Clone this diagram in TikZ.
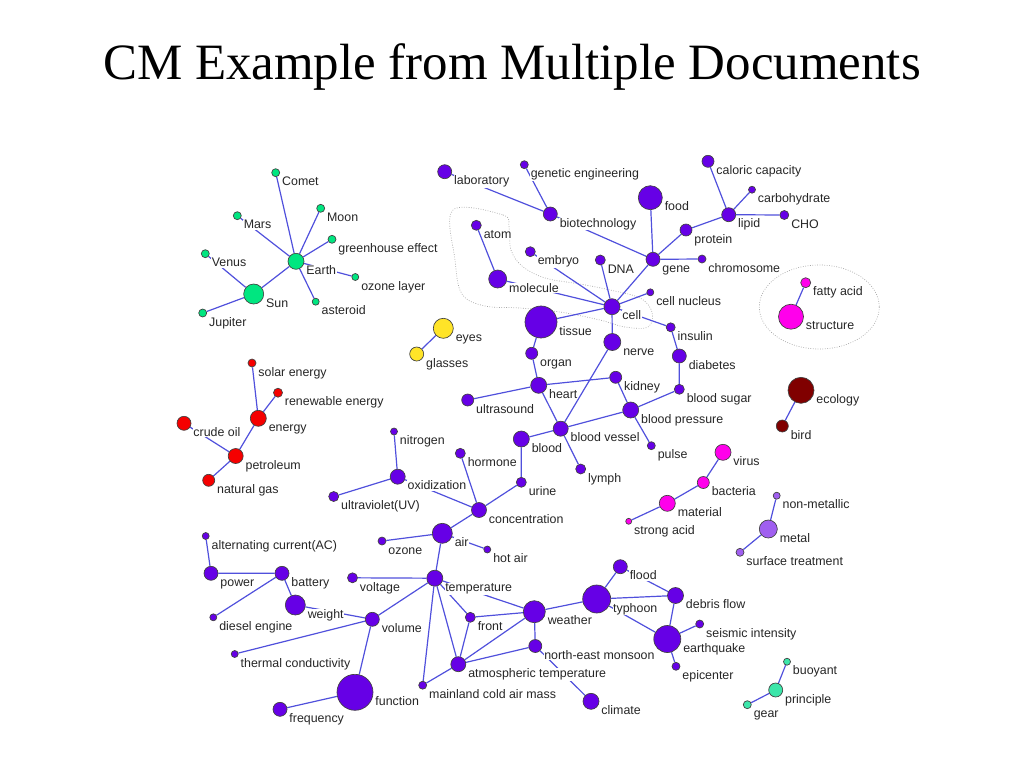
\documentclass[tikz,border=0pt]{standalone}
\usepackage{fontspec}
\setmainfont{Liberation Sans}
\newfontfamily\titlefont{Liberation Serif}
\usepackage{xcolor}
\usepackage{tikz}
\usetikzlibrary{backgrounds}

\definecolor{cmviolet}{RGB}{102,0,230}
\definecolor{cmgreen}{RGB}{0,230,128}
\definecolor{cmyellow}{RGB}{255,228,40}
\definecolor{cmred}{RGB}{245,0,0}
\definecolor{cmmagenta}{RGB}{255,0,235}
\definecolor{cmbrown}{RGB}{128,0,0}
\definecolor{cmlilac}{RGB}{160,95,240}
\definecolor{cmaqua}{RGB}{60,230,170}
\definecolor{cmlink}{RGB}{80,80,220}

\begin{document}
\begin{tikzpicture}[x=0.75pt,y=-0.75pt,
    concept/.style={circle,inner sep=0pt,minimum size=#1*0.75pt,draw=black!75,line width=0.5pt,fill=cmviolet},
    lbl/.style={anchor=base west,xshift=1pt,yshift=-9.9pt,font=\fontsize{9.3}{11}\selectfont,
      text=black!85,fill=white,inner sep=0.4pt},
    link/.style={draw=cmlink,line width=0.9pt},
    hull/.style={draw=gray!70,line width=0.5pt,dash pattern=on 0.6pt off 1.2pt},
    space/.style={fill=cmgreen}, sight/.style={fill=cmyellow}, fuel/.style={fill=cmred},
    germ/.style={fill=cmmagenta}, eco/.style={fill=cmbrown}, alloy/.style={fill=cmlilac},
    mech/.style={fill=cmaqua}]
  \useasboundingbox (0,0) rectangle (1024,768);
  \node[font=\titlefont\fontsize{38.2}{44}\selectfont,anchor=base] (title) at (512,79) {CM Example from Multiple Documents};

  % astronomy
  \node[concept=8,space,label={[lbl]east:Comet}] (comet) at (275.7,172.7) {};
  \node[concept=8,space,label={[lbl]east:Mars}] (mars) at (237.3,215.7) {};
  \node[concept=8,space,label={[lbl]east:Moon}] (moon) at (320.7,208.3) {};
  \node[concept=8,space,label={[lbl]east:greenhouse effect}] (greenhouse) at (332,239.3) {};
  \node[concept=16,space,label={[lbl]east:Earth}] (earth) at (296,261.3) {};
  \node[concept=7,space,label={[lbl]east:ozone layer}] (ozonelayer) at (355.3,277) {};
  \node[concept=8,space,label={[lbl]east:Venus}] (venus) at (205.3,253.7) {};
  \node[concept=20,space,label={[lbl]east:Sun}] (sun) at (253.7,294) {};
  \node[concept=7,space,label={[lbl]east:asteroid}] (asteroid) at (315.7,301.7) {};
  \node[concept=8,space,label={[lbl]east:Jupiter}] (jupiter) at (202.7,313) {};

  % biology
  \node[concept=14,label={[lbl]east:laboratory}] (laboratory) at (444.7,171.7) {};
  \node[concept=8,label={[lbl]east:genetic engineering}] (geneng) at (524.3,164.7) {};
  \node[concept=14,label={[lbl]east:biotechnology}] (biotech) at (550.3,214) {};
  \node[concept=24,label={[lbl]east:food}] (food) at (650.3,197.7) {};
  \node[concept=12,label={[lbl]east:protein}] (protein) at (686,230) {};
  \node[concept=12,label={[lbl]east:caloric capacity}] (caloric) at (708,161.3) {};
  \node[concept=7,label={[lbl]east:carbohydrate}] (carbohydrate) at (752,189.7) {};
  \node[concept=14,label={[lbl]east:lipid}] (lipid) at (728.7,214.7) {};
  \node[concept=9,label={[lbl]east:CHO}] (cho) at (784.3,215) {};
  \node[concept=8,label={[lbl]east:chromosome}] (chromosome) at (702,259) {};
  \node[concept=10,label={[lbl]east:atom}] (atom) at (476.3,225.3) {};
  \node[concept=18,label={[lbl]east:molecule}] (molecule) at (497.7,279) {};
  \node[concept=10,label={[lbl]east:embryo}] (embryo) at (530.3,251.7) {};
  \node[concept=10,label={[lbl]east:DNA}] (dna) at (600.3,260) {};
  \node[concept=14,label={[lbl]east:gene}] (gene) at (653,259.3) {};
  \node[concept=7,label={[lbl]east:cell nucleus}] (cellnucleus) at (650.3,292.3) {};
  \node[concept=16,label={[lbl]east:cell}] (cell) at (612,306.7) {};
  \node[concept=32,label={[lbl]east:tissue}] (tissue) at (541,322) {};
  \node[concept=9,label={[lbl]east:insulin}] (insulin) at (670.7,327.3) {};
  \node[concept=17,label={[lbl]east:nerve}] (nerve) at (612.3,342) {};
  \node[concept=12,label={[lbl]east:organ}] (organ) at (531.7,353.3) {};
  \node[concept=14,label={[lbl]east:diabetes}] (diabetes) at (679.3,356) {};
  \node[concept=16,label={[lbl]east:heart}] (heart) at (538.7,385.3) {};
  \node[concept=12,label={[lbl]east:kidney}] (kidney) at (615.7,377.3) {};
  \node[concept=10,label={[lbl]east:blood sugar}] (bloodsugar) at (679.3,389.3) {};
  \node[concept=12,label={[lbl]east:ultrasound}] (ultrasound) at (467.7,400) {};
  \node[concept=16,label={[lbl]east:blood pressure}] (bloodpressure) at (630.7,410) {};
  \node[concept=15,label={[lbl]east:blood vessel}] (bloodvessel) at (560.7,428.7) {};
  \node[concept=16,label={[lbl]east:blood}] (blood) at (521.3,439) {};
  \node[concept=8,label={[lbl]east:pulse}] (pulse) at (651.3,445.7) {};
  \node[concept=10,label={[lbl]east:hormone}] (hormone) at (460.3,453.3) {};
  \node[concept=10,label={[lbl]east:lymph}] (lymph) at (580.7,469) {};
  \node[concept=10,label={[lbl]east:urine}] (urine) at (521.3,482.3) {};

  % chemistry and air
  \node[concept=7,label={[lbl]east:nitrogen}] (nitrogen) at (394,431.5) {};
  \node[concept=15,label={[lbl]east:oxidization}] (oxidization) at (397.7,476.7) {};
  \node[concept=10,label={[lbl]east:ultraviolet(UV)}] (uv) at (333.7,496.5) {};
  \node[concept=15,label={[lbl]east:concentration}] (concentration) at (479,510) {};
  \node[concept=20,label={[lbl]east:air}] (air) at (442.3,533.3) {};
  \node[concept=8,label={[lbl]east:ozone}] (ozone) at (382,541) {};
  \node[concept=7,label={[lbl]east:hot air}] (hotair) at (487.3,549.5) {};

  % physics
  \node[concept=7,label={[lbl]east:alternating current(AC)}] (ac) at (205.7,536) {};
  \node[concept=14,label={[lbl]east:power}] (power) at (211,573.3) {};
  \node[concept=14,label={[lbl]east:battery}] (battery) at (282,573.3) {};
  \node[concept=20,label={[lbl]east:weight}] (weight) at (295.3,605) {};
  \node[concept=7,label={[lbl]east:diesel engine}] (diesel) at (213.3,617.3) {};
  \node[concept=10,label={[lbl]east:voltage}] (voltage) at (352.5,577.8) {};
  \node[concept=16,label={[lbl]east:temperature}] (temperature) at (434.8,578.2) {};
  \node[concept=14,label={[lbl]east:volume}] (volume) at (372.3,619.3) {};
  \node[concept=7,label={[lbl]east:thermal conductivity}] (thermal) at (234.7,654) {};
  \node[concept=36,label={[lbl]east:function}] (function) at (355,692.3) {};
  \node[concept=14,label={[lbl]east:frequency}] (frequency) at (280,709.3) {};

  % weather
  \node[concept=10,label={[lbl]east:front}] (front) at (470.3,617.3) {};
  \node[concept=22,label={[lbl]east:weather}] (weather) at (534.3,611.7) {};
  \node[concept=28,label={[lbl]east:typhoon}] (typhoon) at (596.7,599) {};
  \node[concept=14,label={[lbl]east:flood}] (flood) at (620.3,566.7) {};
  \node[concept=16,label={[lbl]east:debris flow}] (debris) at (675.5,595.5) {};
  \node[concept=8,label={[lbl]east:seismic intensity}] (seismic) at (699.7,624) {};
  \node[concept=27,label={[lbl]east:earthquake}] (earthquake) at (667.3,639) {};
  \node[concept=8,label={[lbl]east:epicenter}] (epicenter) at (676,666.3) {};
  \node[concept=13,label={[lbl]east:north-east monsoon}] (monsoon) at (535.3,646) {};
  \node[concept=15,label={[lbl]east:atmospheric temperature}] (atmotemp) at (458.3,664.2) {};
  \node[concept=8,label={[lbl]east:mainland cold air mass}] (mainland) at (422.7,685.2) {};
  \node[concept=16,label={[lbl]east:climate}] (climate) at (591,701.3) {};

  % small clusters
  \node[concept=20,sight,label={[lbl]east:eyes}] (eyes) at (443.3,328.3) {};
  \node[concept=14,sight,label={[lbl]east:glasses}] (glasses) at (416.7,354) {};
  \node[concept=8,fuel,label={[lbl]east:solar energy}] (solar) at (252,363) {};
  \node[concept=9,fuel,label={[lbl]east:renewable energy}] (renewable) at (278,392.7) {};
  \node[concept=16,fuel,label={[lbl]east:energy}] (energy) at (258.3,418.3) {};
  \node[concept=14,fuel,label={[lbl]east:crude oil}] (crudeoil) at (184,423.3) {};
  \node[concept=15,fuel,label={[lbl]east:petroleum}] (petroleum) at (235.7,456) {};
  \node[concept=12,fuel,label={[lbl]east:natural gas}] (naturalgas) at (208.7,480.3) {};
  \node[concept=26,eco,label={[lbl]east:ecology}] (ecology) at (801,390.3) {};
  \node[concept=12,eco,label={[lbl]east:bird}] (bird) at (782.3,426) {};
  \node[concept=10,germ,label={[lbl]east:fatty acid}] (fattyacid) at (805.7,282.7) {};
  \node[concept=25,germ,label={[lbl]east:structure}] (structure) at (791,316.7) {};
  \node[concept=16,germ,label={[lbl]east:virus}] (virus) at (723,452.3) {};
  \node[concept=12,germ,label={[lbl]east:bacteria}] (bacteria) at (703.3,482.5) {};
  \node[concept=16,germ,label={[lbl]east:material}] (material) at (667.3,503.3) {};
  \node[concept=6,germ,label={[lbl]east:strong acid}] (strongacid) at (628.7,521.3) {};
  \node[concept=7,alloy,label={[lbl]east:non-metallic}] (nonmetallic) at (776.7,495.7) {};
  \node[concept=18,alloy,label={[lbl]east:metal}] (metal) at (768.3,529) {};
  \node[concept=8,alloy,label={[lbl]east:surface treatment}] (surface) at (740,552.3) {};
  \node[concept=7,mech,label={[lbl]east:buoyant}] (buoyant) at (787,661.7) {};
  \node[concept=14,mech,label={[lbl]east:principle}] (principle) at (775.7,690) {};
  \node[concept=8,mech,label={[lbl]east:gear}] (gear) at (747.3,704.7) {};

  \begin{pgfonlayer}{background}
    % groups
    \draw[hull] plot[smooth cycle,tension=0.6] coordinates {(453,210) (503,215) (509,228) (511,250)
      (522,266) (545,278) (580,284) (610,290) (640,298) (652,312) (648,327) (625,327) (600,320)
      (560,312) (520,308) (485,306) (462,294) (455,260)};
    \draw[hull] (819.3,307) ellipse [x radius=60,y radius=42];
    % links
    \draw[link] (earth) -- (comet) (earth) -- (mars) (earth) -- (moon) (earth) -- (greenhouse)
      (earth) -- (ozonelayer) (earth) -- (asteroid) (earth) -- (sun) (sun) -- (venus) (sun) -- (jupiter);
    \draw[link] (laboratory) -- (biotech) (geneng) -- (biotech) (biotech) -- (gene) (food) -- (gene)
      (gene) -- (protein) (protein) -- (lipid) (lipid) -- (caloric) (lipid) -- (carbohydrate)
      (lipid) -- (cho) (gene) -- (chromosome) (gene) -- (cell);
    \draw[link] (atom) -- (molecule) (molecule) -- (cell) (embryo) -- (cell) (dna) -- (cell)
      (cell) -- (cellnucleus) (cell) -- (tissue) (cell) -- (insulin) (cell) -- (nerve)
      (tissue) -- (organ) (organ) -- (heart) (insulin) -- (diabetes) (diabetes) -- (bloodsugar);
    \draw[link] (heart) -- (kidney) (heart) -- (ultrasound) (heart) -- (bloodvessel)
      (nerve) -- (bloodvessel) (kidney) -- (bloodpressure) (bloodsugar) -- (bloodpressure)
      (bloodpressure) -- (bloodvessel) (bloodpressure) -- (pulse) (bloodvessel) -- (blood)
      (bloodvessel) -- (lymph) (blood) -- (urine);
    \draw[link] (urine) -- (concentration) (hormone) -- (concentration) (oxidization) -- (concentration)
      (nitrogen) -- (oxidization) (oxidization) -- (uv) (concentration) -- (air) (air) -- (ozone)
      (air) -- (hotair) (air) -- (temperature);
    \draw[link] (temperature) -- (voltage) (temperature) -- (volume) (temperature) -- (front)
      (temperature) -- (weather) (temperature) -- (atmotemp) (temperature) -- (mainland)
      (volume) -- (weight) (volume) -- (thermal) (volume) -- (function) (function) -- (frequency)
      (battery) -- (power) (power) -- (ac) (battery) -- (weight) (battery) -- (diesel);
    \draw[link] (front) -- (weather) (front) -- (atmotemp) (weather) -- (atmotemp)
      (weather) -- (monsoon) (monsoon) -- (atmotemp) (atmotemp) -- (mainland) (monsoon) -- (climate)
      (weather) -- (typhoon) (typhoon) -- (flood) (typhoon) -- (debris) (typhoon) -- (earthquake)
      (flood) -- (debris) (debris) -- (earthquake) (earthquake) -- (seismic) (earthquake) -- (epicenter);
    \draw[link] (eyes) -- (glasses) (energy) -- (solar) (energy) -- (renewable) (energy) -- (petroleum)
      (petroleum) -- (crudeoil) (petroleum) -- (naturalgas) (ecology) -- (bird)
      (fattyacid) -- (structure) (virus) -- (bacteria) (bacteria) -- (material)
      (material) -- (strongacid) (nonmetallic) -- (metal) (metal) -- (surface)
      (buoyant) -- (principle) (principle) -- (gear);
  \end{pgfonlayer}
\end{tikzpicture}
\end{document}
